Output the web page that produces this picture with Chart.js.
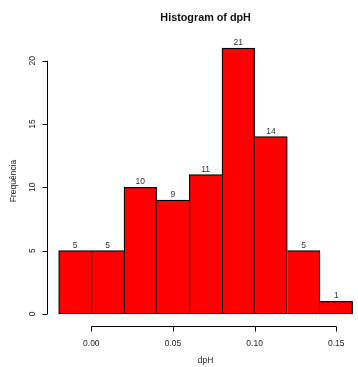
<!DOCTYPE html>
<html>
<head>
<meta charset="utf-8">
<script src="https://cdn.jsdelivr.net/npm/chart.js@4"></script>
<style>
  html, body { margin: 0; padding: 0; background: #fff; }
  #wrap { width: 358px; height: 367px; position: relative; }
</style>
</head>
<body>
<div id="wrap"><canvas id="c" width="358" height="367"></canvas></div>
<script>
// Histogram of dpH: class breaks and counts per class
const breaks = [-0.02, 0.00, 0.02, 0.04, 0.06, 0.08, 0.10, 0.12, 0.14, 0.16];
const counts = [5, 5, 10, 9, 11, 21, 14, 5, 1];
const xTicks = [0.00, 0.05, 0.10, 0.15];
const xTickLabels = ['0.00', '0.05', '0.10', '0.15'];
const yTicks = [0, 5, 10, 15, 20];
const yTickLabels = ['0', '5', '10', '15', '20'];
const titleText = 'Histogram of dpH';
const xTitle = 'dpH';
const yTitle = 'Frequência';

const FONT = '"Liberation Sans", Arial, Helvetica, sans-serif';
const EDGE = 1.25;

const binData = counts.map((c, i) => ({ x: (breaks[i] + breaks[i + 1]) / 2, y: c }));

// Only one outline per shared edge, taken by the taller neighbour
function edges(i) {
  const last = counts.length - 1;
  return {
    top: EDGE,
    bottom: EDGE,
    left: (i === 0 || counts[i] >= counts[i - 1]) ? EDGE : 0,
    right: (i === last || counts[i] > counts[i + 1]) ? EDGE : 0
  };
}

// R-style axes, titles and count labels
const rStyle = {
  id: 'rStyle',
  afterDatasetsDraw(chart) {
    const ctx = chart.ctx;
    const xs = chart.scales.x, ys = chart.scales.y;
    const area = chart.chartArea;
    ctx.save();

    // counts above bars
    ctx.fillStyle = '#333';
    ctx.font = '8.5px ' + FONT;
    ctx.textAlign = 'center';
    ctx.textBaseline = 'alphabetic';
    chart.getDatasetMeta(0).data.forEach((bar, i) => {
      ctx.fillText(String(counts[i]), bar.x, bar.y - 3);
    });

    ctx.strokeStyle = '#000';
    ctx.lineWidth = 1;

    // x axis
    const yAx = Math.round(area.bottom + 1) + 0.5;
    const x0 = xs.getPixelForValue(xTicks[0]);
    const x1 = xs.getPixelForValue(xTicks[xTicks.length - 1]);
    ctx.beginPath();
    ctx.moveTo(x0, yAx); ctx.lineTo(x1, yAx);
    xTicks.forEach(v => {
      const px = Math.round(xs.getPixelForValue(v)) + 0.5;
      ctx.moveTo(px, yAx); ctx.lineTo(px, yAx + 5);
    });
    ctx.stroke();
    ctx.fillStyle = '#222';
    ctx.font = '8.5px ' + FONT;
    ctx.textAlign = 'center';
    ctx.textBaseline = 'middle';
    xTicks.forEach((v, i) => {
      ctx.fillText(xTickLabels[i], xs.getPixelForValue(v), yAx + 17);
    });

    // y axis
    const xAx = Math.round(area.left) + 0.5;
    const yTop = ys.getPixelForValue(yTicks[yTicks.length - 1]);
    const yBot = ys.getPixelForValue(yTicks[0]);
    ctx.beginPath();
    ctx.moveTo(xAx, yBot); ctx.lineTo(xAx, yTop);
    yTicks.forEach(v => {
      const py = Math.round(ys.getPixelForValue(v)) + 0.5;
      ctx.moveTo(xAx, py); ctx.lineTo(xAx - 5, py);
    });
    ctx.stroke();
    yTicks.forEach((v, i) => {
      ctx.save();
      ctx.translate(xAx - 15, ys.getPixelForValue(v));
      ctx.rotate(-Math.PI / 2);
      ctx.fillText(yTickLabels[i], 0, 0);
      ctx.restore();
    });

    // axis titles
    const plotMid = (xs.getPixelForValue(xs.min) + xs.getPixelForValue(breaks[breaks.length - 1] + 0.0072)) / 2;
    ctx.fillText(xTitle, plotMid, 361);
    ctx.save();
    ctx.translate(14, (area.top + area.bottom) / 2);
    ctx.rotate(-Math.PI / 2);
    ctx.fillText(yTitle, 0, 0);
    ctx.restore();

    // main title
    ctx.fillStyle = '#111';
    ctx.font = 'bold 10.8px ' + FONT;
    ctx.fillText(titleText, plotMid, 18);

    ctx.restore();
  }
};

new Chart(document.getElementById('c'), {
  type: 'bar',
  data: {
    datasets: [{
      data: binData,
      backgroundColor: '#ff0000',
      borderColor: '#000',
      borderWidth: (c) => edges(c.dataIndex),
      borderSkipped: false,
      barPercentage: 1,
      categoryPercentage: 1,
      grouped: false
    }]
  },
  options: {
    responsive: false,
    animation: false,
    events: [],
    layout: { padding: { left: 46.9, right: 0, top: 37.4, bottom: 42.4 } },
    plugins: { legend: { display: false }, tooltip: { enabled: false } },
    scales: {
      x: { type: 'linear', display: false, min: -0.0272, max: 0.1633, offset: false },
      y: { type: 'linear', display: false, min: -0.84, max: 21.84 }
    }
  },
  plugins: [rStyle]
});
</script>
</body>
</html>
